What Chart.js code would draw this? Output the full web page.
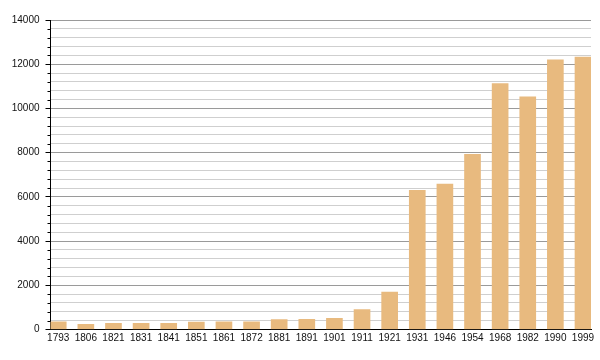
<!DOCTYPE html>
<html>
<head>
<meta charset="utf-8">
<script src="https://cdn.jsdelivr.net/npm/chart.js@4/dist/chart.umd.min.js"></script>
<style>
  html, body { margin: 0; padding: 0; background: #fff; }
  canvas { display: block; }
</style>
</head>
<body>
<canvas id="popChart" width="600" height="360"></canvas>
<script>
// population by census year
const years = ['1793', '1806', '1821', '1831', '1841', '1851', '1861', '1872', '1881', '1891',
               '1901', '1911', '1921', '1931', '1946', '1954', '1968', '1982', '1990', '1999'];
const population = [350, 230, 280, 280, 280, 330, 350, 350, 450, 460,
                    500, 900, 1690, 6290, 6580, 7920, 11120, 10520, 12200, 12320];
const yTicks = [0, 2000, 4000, 6000, 8000, 10000, 12000, 14000];

// minor tick marks on the y axis (Chart.js uses one tick length for all)
const minorTicks = {
    id: 'minorTicks',
    afterDraw(chart) {
        const y = chart.scales.y;
        const ctx = chart.ctx;
        ctx.save();
        ctx.strokeStyle = '#000';
        ctx.lineWidth = 1;
        y.ticks.forEach(t => {
            if (yTicks.includes(t.value)) return;
            const py = Math.round(y.getPixelForValue(t.value)) + 0.5;
            ctx.beginPath();
            ctx.moveTo(y.right - 3, py);
            ctx.lineTo(y.right, py);
            ctx.stroke();
        });
        ctx.restore();
    }
};

const ctx = document.getElementById('popChart');
new Chart(ctx, {
    type: 'bar',
    data: {
        datasets: [{
            data: population.map((v, i) => ({ x: i, y: v })),
            backgroundColor: '#e8ba7f',
            borderWidth: 0,
            barThickness: 16
        }]
    },
    options: {
        responsive: false,
        animation: false,
        layout: { padding: { top: 20, right: 9, left: 0, bottom: 0 } },
        plugins: { legend: { display: false }, tooltip: { enabled: false } },
        scales: {
            x: {
                type: 'linear',
                offset: false,
                min: -0.28,
                max: years.length - 1 + 0.29,
                afterBuildTicks: s => { s.ticks = years.map((_, i) => ({ value: i })); },
                afterFit: s => { s.height = 30.5; },
                ticks: {
                    autoSkip: false,
                    maxRotation: 0,
                    padding: 3,
                    color: '#111',
                    font: { family: '"Liberation Sans", Arial, sans-serif', size: 10 },
                    callback: (v, i) => years[i]
                },
                grid: { offset: false, drawOnChartArea: false, drawTicks: false },
                border: { display: true, color: '#000', width: 1 }
            },
            y: {
                min: 0,
                max: 14000,
                afterFit: s => { s.width = 50.5; },
                ticks: {
                    stepSize: 400,
                    autoSkip: false,
                    padding: 6,
                    color: '#111',
                    font: { family: '"Liberation Sans", Arial, sans-serif', size: 10 },
                    callback: v => yTicks.includes(v) ? String(v) : ''
                },
                grid: {
                    color: c => yTicks.includes(c.tick.value) ? '#9a9a9a' : '#cfcfcf',
                    tickLength: 5,
                    tickColor: c => yTicks.includes(c.tick.value) ? '#000' : 'rgba(0,0,0,0)'
                },
                border: { display: true, color: '#000', width: 1 }
            }
        }
    },
    plugins: [minorTicks]
});
</script>
</body>
</html>
